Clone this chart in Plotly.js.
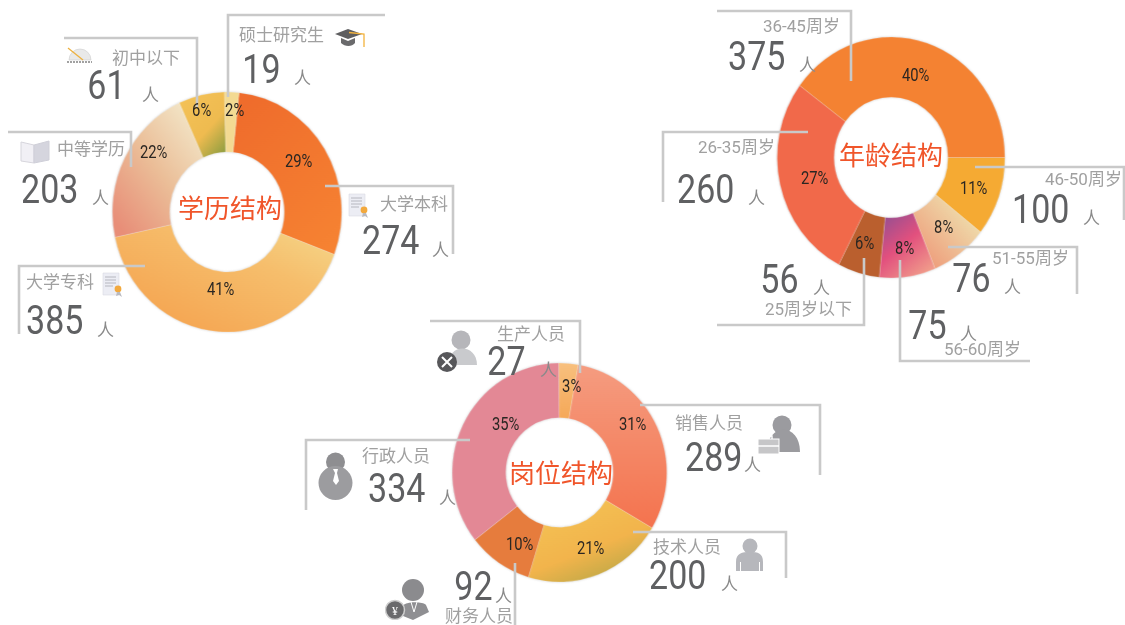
<!DOCTYPE html>
<html><head><meta charset="utf-8">
<script src="https://cdn.plot.ly/plotly-3.0.1.min.js"></script>
<style>html,body{margin:0;padding:0;background:#fff}#c{width:1125px;height:625px}.pielayer{filter:drop-shadow(0 0 1px rgba(120,120,120,.35)) blur(.5px)}</style>
</head><body><div id="c"></div>
<script>
// ---- data ----
const eduLabels = ['大学本科','大学专科','中等学历','初中以下','硕士研究生'];
const eduValues = [274,385,203,61,19];
const eduPct = ['29%','41%','22%','6%','2%'];
const ageLabels = ['46-50周岁','51-55周岁','56-60周岁','25周岁以下','26-35周岁','36-45周岁'];
const ageValues = [100,76,75,56,260,375];
const agePct = ['11%','8%','8%','6%','27%','40%'];
const jobLabels = ['销售人员','技术人员','财务人员','行政人员','生产人员'];
const jobValues = [289,200,92,334,27];
const jobPct = ['31%','21%','10%','35%','3%'];
const titles = ['学历结构','年龄结构','岗位结构'];
const unit = '人';

// ---- style ----
const W=1125,H=625;
// gradient: x1,y1,x2,y2 (%), then stops
const eduFill=[[20,0,80,100,[0,'#EF6C2C'],[1,'#F68232']],[100,0,0,100,[0,'#F5D98C'],[.35,'#F6BE6C'],[1,'#F59E4A']],[10,95,90,5,[0,'#E88E78'],[.5,'#EBBE98'],[1,'#F3E8CA']],[10,0,90,100,[0,'#F4C258'],[.6,'#EFBB50'],[1,'#8F9E40']],[0,0,0,100,[0,'#F3DA92'],[1,'#F3DA92']]];
const ageFill=[[0,0,0,100,[0,'#F5AA33'],[1,'#F5AA33']],[85,15,15,85,[0,'#EFE2B0'],[1,'#EE9E7C']],[15,0,85,100,[0,'#964F92'],[.45,'#E2507E'],[1,'#F2A48C']],[0,0,0,100,[0,'#BA5F2E'],[1,'#BA5F2E']],[0,0,0,100,[0,'#F1694A'],[1,'#F1694A']],[0,0,0,100,[0,'#F48232'],[1,'#F48232']]];
const jobFill=[[50,0,50,100,[0,'#F59C80'],[1,'#F4734E']],[25,0,85,100,[0,'#F4C355'],[.55,'#F2B44C'],[1,'#B0A545']],[0,0,0,100,[0,'#E67C3D'],[1,'#E67C3D']],[0,0,0,100,[0,'#E38895'],[1,'#E38895']],[50,0,50,100,[0,'#F8C07E'],[1,'#F5A858']]];
const numFont="Roboto,'Noto Sans CJK SC',sans-serif";
const cjk="'Noto Sans CJK SC',sans-serif";
const px=x=>x/W, py=y=>1-y/H;
function pie(labels,values,cx,cy,r,rot){return{type:'pie',labels,values,sort:false,direction:'clockwise',rotation:rot,hole:.5,textinfo:'none',hoverinfo:'skip',
 domain:{x:[px(cx-r),px(cx+r)],y:[py(cy+r),py(cy-r)]},marker:{line:{color:'rgba(255,255,255,.4)',width:.5}}};}
const centers=[[227,212,120,.955],[891,157.5,120.5,.945],[559.500,472.500,109.500,.98]];
const rotations=[6,90,10];
const traces=[pie(eduLabels,eduValues,...centers[0].slice(0,3),rotations[0]),pie(ageLabels,ageValues,...centers[1].slice(0,3),rotations[1]),pie(jobLabels,jobValues,...centers[2].slice(0,3),rotations[2])];

// leader lines
const leaders=[
[[228,97],[228,15],[385,15]],[[64,38],[197,38],[197,107]],[[8,132],[131,132],[131,167]],[[325,186],[453,186],[453,254]],[[145,266],[19,266],[19,334]],
[[717,11],[851,11],[851,81]],[[808,132],[663,132],[663,202]],[[975,167],[1124,167],[1124,220]],[[948,247],[1077,247],[1077,294]],[[900,260],[900,361],[1030,361]],[[864,258],[864,325],[717,325]],
[[430,321],[580,321],[580,373]],[[640,405],[820,405],[820,475]],[[633,532],[786,532],[786,578]],[[470,440],[306,440],[306,510]],[[515,563],[515,625]]];
const shapes=leaders.map(p=>({type:'path',xref:'paper',yref:'paper',layer:'above',
 path:p.map((q,i)=>(i?'L':'M')+px(q[0])+' '+py(q[1])).join(' '),line:{color:'#C9C9C9',width:2.6}}));

// text placement: label x,y / number x,y / unit x,y / percent x,y per slice
const eduPos=[[414,204,390,240,440,248,298,160],[60,282,54,320,105,328,220,289],[91,149,49,188,100,197,153,151],[146,58,107,85,150,93,201,109],[281,35,261,69,302,77,234,109]];
const agePos=[[1083,179,1040,208,1091,216,973,187],[1030,258,971,277,1012,285,943,227],[982,349,927,324,968,332,904,247],[808,309,779,278,821,286,864,242],[736,147,705,188,756,197,814,178],[801,26,756,55,807,63,915,74]];
const jobPos=[[709,423,713,456,752,463,632,423],[687,547,677,574,729,582,590,547],[479,616,473,585,503,594,519,543],[396,456,396,487,447,496,505,423],[531,334,506,360,548,368,571,385]];
const ann=[];
function T(text,x,y,size,color,fam){ann.push({text:String(text),x:px(x),y:py(y),xref:'paper',yref:'paper',xanchor:'center',yanchor:'middle',showarrow:false,font:{size,color,family:fam}});}
const NUM=40,PCT=18;
function addAll(labels,values,pct,pos){labels.forEach((l,i)=>{const p=pos[i];
 T(l,p[0],p[1],17,'#A0A0A0',numFont);T(values[i],p[2],p[3]+1,NUM,'#5F6062',numFont);T(unit,p[4],p[5],17,'#8A8A8A',cjk);T(pct[i],p[6],p[7],PCT,'#2A2622',numFont);});}
addAll(eduLabels,eduValues,eduPct,eduPos);addAll(ageLabels,ageValues,agePct,agePos);addAll(jobLabels,jobValues,jobPct,jobPos);
T(titles[0],230,207,26,'#F0552A',cjk);T(titles[1],891,154,26,'#F0552A',cjk);T(titles[2],561,471,26,'#F0552A',cjk);

// small pictograms
const svg=(w,h,b)=>'data:image/svg+xml;charset=utf-8,'+encodeURIComponent(`<svg xmlns="http://www.w3.org/2000/svg" width="${w*4}" height="${h*4}" viewBox="0 0 ${w} ${h}">${b}</svg>`);
const certBody=`<path d="M1 1h16v22H1z" fill="#ECEDF4" stroke="#DADAE2" stroke-width=".6"/><path d="M3 5h11M3 8h11M3 11h11M3 14h8" stroke="#A9A9B2" stroke-width=".8"/><circle cx="16" cy="17" r="3.4" fill="#F2A93E"/><path d="M15 20l-1 4 3-1 3 2-2-5" fill="#B9BAC0"/>`;
const icons=[
[20,140,30,24,`<path d="M1 2l13 3v18L1 21z" fill="#F1F0F5" stroke="#D6D5DC"/><path d="M14 5l15-4v19l-15 3z" fill="#D5D5DE" stroke="#CFCFD8"/>`],
[348,193,22,25,certBody],[102,272,22,25,certBody],
[66,47,27,16,`<path d="M3 13A10.500 10.500 0 0 1 25 13z" fill="#E9E9E9" stroke="#CFCFCF" stroke-width=".6"/><path d="M2 1l15 12" stroke="#EDB13F" stroke-width="1.300"/><path d="M1 15h25" stroke="#444" stroke-width="1.200" stroke-dasharray="2 1"/>`],
[334,28,33,20,`<path d="M1 6L14 1l14 5-14 5z" fill="#5E5E60"/><path d="M7 10v5c4 4 11 4 14 0v-5l-7 3z" fill="#6A6A6C"/><path d="M15 4.500l15 1.500v13" fill="none" stroke="#F3B33D" stroke-width="1.300"/>`],
[437,330,41,43,`<circle cx="24" cy="10" r="9.500" fill="#B6B6BA"/><path d="M11 35c0-22 29-22 29 0z" fill="#C9CACD"/><circle cx="10" cy="32" r="10" fill="#57575A"/><path d="M5 27l10 10M15 27L5 37" stroke="#fff" stroke-width="2"/>`],
[758,415,42,40,`<circle cx="24" cy="10" r="9.500" fill="#9B9B9F"/><path d="M9 37c0-30 33-30 33 0z" fill="#9B9B9F"/><rect x="0" y="24" width="21" height="15" fill="#C6C6C8" stroke="#fff"/><path d="M0 31h21M7 24v-3h7v3" stroke="#fff" stroke-width="1.400" fill="none"/>`],
[318,452,35,48,`<circle cx="17.500" cy="10" r="9.500" fill="#8E8E91"/><circle cx="17.500" cy="31" r="17" fill="#9C9C9F"/><path d="M15 17h5l-1 4 2 8-3 4-3-4 2-8z" fill="#fff"/>`],
[735,538,29,33,`<circle cx="15" cy="8" r="7.500" fill="#B6B7BC"/><path d="M1 33V24c0-9 6-10 14-10s13 1 13 10v9h-3v-9h-1v9H6v-9H5v9z" fill="#B6B7BC"/>`],
[385,578,44,42,`<circle cx="28" cy="12" r="11" fill="#8B8B8E"/><path d="M18 38l-3-8c4-7 22-7 26-3l3 7-16 8z" fill="#8F8F92"/><path d="M26 24l3 10 3-10" fill="none" stroke="#fff" stroke-width="1"/><circle cx="10" cy="32" r="9.500" fill="#6A6A6C" stroke="#CFCFCF" stroke-width="1.500"/><text x="10" y="37" font-size="12" text-anchor="middle" fill="#fff">¥</text>`]
];
const images=icons.map(c=>({source:svg(c[2],c[3],c[4]),xref:'paper',yref:'paper',x:px(c[0]),y:py(c[1]),sizex:c[2]/W,sizey:c[3]/H,sizing:'stretch',xanchor:'left',yanchor:'top',layer:'above'}));

const layout={width:W,height:H,margin:{l:0,r:0,t:0,b:0},paper_bgcolor:'#fff',showlegend:false,hovermode:false,shapes,annotations:ann,images};
Plotly.newPlot('c',traces,layout,{displayModeBar:false,staticPlot:true}).then(gd=>{
 const NS='http://www.w3.org/2000/svg',svgEl=gd.querySelector('.main-svg');
 const defs=svgEl.querySelector('defs')||svgEl.insertBefore(document.createElementNS(NS,'defs'),svgEl.firstChild);
 const fills=[eduFill,ageFill,jobFill];
 gd.querySelectorAll('.pielayer .trace').forEach((tr,t)=>{
  // the reference rings are slightly narrower than they are tall
  const cx=centers[t][0],sx=centers[t][3];
  tr.setAttribute('transform',`translate(${cx},0) scale(${sx},1) translate(${-cx},0)`);
  tr.querySelectorAll('.slice path.surface').forEach((s,i)=>{
   const f=fills[t][i],id='g'+t+'_'+i,g=document.createElementNS(NS,'linearGradient');
   g.setAttribute('id',id);
   ['x1','y1','x2','y2'].forEach((k,j)=>g.setAttribute(k,f[j]+'%'));
   f.slice(4).forEach(o=>{const st=document.createElementNS(NS,'stop');st.setAttribute('offset',o[0]);st.setAttribute('stop-color',o[1]);g.appendChild(st);});
   defs.appendChild(g);s.style.fill='url(#'+id+')';
  });
 });
 // narrow digits, as in the reference
 gd.querySelectorAll('.annotation text').forEach(el=>{
  const fs=parseFloat(el.style.fontSize);
  const k=fs===NUM?.85:fs===PCT?.82:0;
  if(k){el.setAttribute('textLength',el.getComputedTextLength()*k);el.setAttribute('lengthAdjust','spacingAndGlyphs');}
 });
});
</script></body></html>
